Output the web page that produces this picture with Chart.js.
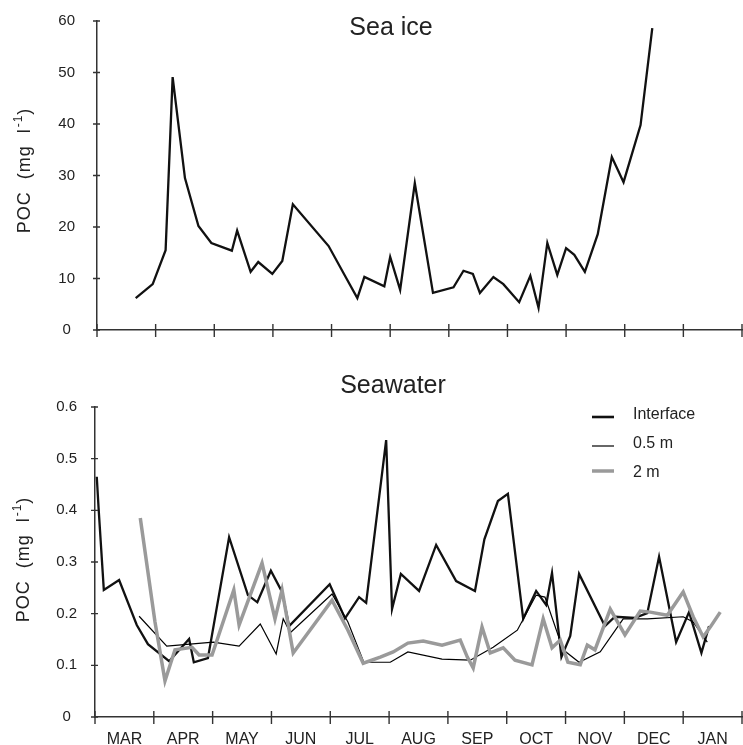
<!DOCTYPE html>
<html><head><meta charset="utf-8">
<script src="https://cdn.jsdelivr.net/npm/chart.js@4.4.0/dist/chart.umd.min.js"></script>
<style>
html,body{margin:0;padding:0;background:#fff;}
#wrap{position:relative;width:743px;height:745px;overflow:hidden;background:#fff;}
#c1{position:absolute;left:0;top:0;}
#c2{position:absolute;left:0;top:350px;}
</style></head><body>
<div id="wrap">
<canvas id="c1" width="743" height="350"></canvas>
<canvas id="c2" width="743" height="395"></canvas>
</div>
<script>
// ---- Data (x in months since start of March; 0 = start of MAR, 11 = end of JAN) ----
const months = ["MAR","APR","MAY","JUN","JUL","AUG","SEP","OCT","NOV","DEC","JAN"];
const seaIceTicks = [0,10,20,30,40,50,60];
const seawaterTicks = [0,0.1,0.2,0.3,0.4,0.5,0.6];

const seaIceX = [0.66,0.95,1.17,1.29,1.50,1.73,1.95,2.30,2.39,2.62,2.75,2.99,3.16,3.34,3.95,4.25,4.44,4.56,4.90,5.00,5.17,5.42,5.73,6.08,6.25,6.41,6.53,6.76,6.93,7.20,7.39,7.53,7.68,7.85,8.00,8.14,8.32,8.54,8.78,8.98,9.27,9.47];
const seaIceY = [6.2,8.9,15.5,49.1,29.5,20.2,16.9,15.4,19.3,11.3,13.2,10.9,13.4,24.4,16.3,10.1,6.2,10.3,8.5,14.2,7.8,28.5,7.2,8.3,11.5,10.9,7.2,10.3,8.9,5.4,10.5,4.3,16.9,10.7,15.9,14.6,11.3,18.6,33.6,28.7,39.8,58.6];

const interfaceX = [0.03,0.06,0.15,0.41,0.71,0.90,1.26,1.60,1.68,1.92,2.28,2.60,2.76,2.99,3.18,3.30,3.99,4.25,4.49,4.61,4.95,5.05,5.20,5.51,5.80,6.14,6.46,6.62,6.85,7.02,7.28,7.50,7.67,7.77,7.93,8.08,8.23,8.67,8.84,9.18,9.39,9.59,9.88,10.10,10.31,10.44];
const interfaceY = [0.465,0.406,0.246,0.265,0.178,0.141,0.108,0.151,0.106,0.114,0.348,0.236,0.222,0.283,0.242,0.176,0.257,0.191,0.232,0.221,0.536,0.209,0.277,0.244,0.333,0.263,0.244,0.344,0.418,0.432,0.190,0.244,0.217,0.279,0.116,0.157,0.277,0.176,0.194,0.192,0.201,0.310,0.145,0.203,0.124,0.176];

const m05X = [0.75,1.22,2.01,2.45,2.81,3.08,3.20,3.32,4.03,4.30,4.57,5.02,5.32,5.90,6.38,6.77,7.18,7.50,7.65,7.96,8.23,8.59,8.98,9.39,10.00,10.17,10.41];
const m05Y = [0.195,0.137,0.145,0.137,0.180,0.122,0.190,0.163,0.238,0.184,0.106,0.106,0.126,0.112,0.110,0.135,0.168,0.236,0.232,0.130,0.106,0.126,0.190,0.190,0.194,0.184,0.145];

const m2X = [0.77,1.02,1.19,1.36,1.65,1.77,1.99,2.36,2.45,2.84,3.06,3.18,3.37,4.03,4.30,4.56,4.85,5.07,5.32,5.58,5.90,6.21,6.33,6.43,6.58,6.72,6.94,7.14,7.43,7.62,7.77,7.91,8.04,8.25,8.37,8.50,8.76,9.01,9.27,9.44,9.73,10.00,10.17,10.34,10.46,10.63];
const m2Y = [0.385,0.184,0.070,0.130,0.135,0.120,0.120,0.246,0.178,0.298,0.190,0.246,0.124,0.226,0.168,0.104,0.116,0.126,0.143,0.147,0.139,0.149,0.116,0.095,0.174,0.124,0.134,0.110,0.101,0.190,0.134,0.149,0.106,0.101,0.139,0.130,0.209,0.159,0.205,0.203,0.197,0.242,0.194,0.155,0.174,0.203];

const FONT = "'Liberation Sans', Arial, Helvetica, sans-serif";
const TXT = '#222';
const AX = '#333';
const pts = (xs, ys) => xs.map((x, i) => ({x: x, y: ys[i]}));

const decor = {
  id: 'decor',
  afterDraw(chart, args, o) {
    const {ctx, scales: {x, y}} = chart;
    ctx.save();
    // tick marks crossing the axes
    ctx.strokeStyle = AX; ctx.lineWidth = 1.4;
    const yb = y.getPixelForValue(y.min);
    const xl = x.getPixelForValue(x.min);
    ctx.beginPath();
    for (let i = 0; i <= months.length; i++) {
      const px = x.getPixelForValue(i);
      ctx.moveTo(px, yb - 6); ctx.lineTo(px, yb + 7);
    }
    o.yticks.forEach(v => {
      const py = y.getPixelForValue(v);
      ctx.moveTo(xl - 4, py); ctx.lineTo(xl + 3, py);
    });
    ctx.stroke();
    // title
    ctx.fillStyle = TXT;
    ctx.font = '25px ' + FONT;
    ctx.textAlign = 'center'; ctx.textBaseline = 'middle';
    ctx.fillText(o.title, o.titleX, o.titleY);
    // y-axis label with superscript
    ctx.translate(o.ylX, o.ylY);
    ctx.rotate(-Math.PI / 2);
    ctx.letterSpacing = '1px';
    const main = 'POC  (mg  l', sup = '-1', end = ')';
    ctx.font = '18px ' + FONT;
    const w1 = ctx.measureText(main).width, w3 = ctx.measureText(end).width;
    ctx.font = '12px ' + FONT;
    const w2 = ctx.measureText(sup).width;
    let sx = -(w1 + w2 + w3) / 2;
    ctx.textAlign = 'left'; ctx.textBaseline = 'alphabetic';
    ctx.font = '18px ' + FONT;
    ctx.fillText(main, sx, 6);
    ctx.font = '12px ' + FONT;
    ctx.fillText(sup, sx + w1 + 1, -2);
    ctx.font = '18px ' + FONT;
    ctx.fillText(end, sx + w1 + w2 + 1, 6);
    ctx.restore();
    // legend
    if (o.legend) {
      ctx.save();
      ctx.font = '16px ' + FONT;
      ctx.textAlign = 'left'; ctx.textBaseline = 'middle';
      o.legend.forEach(it => {
        ctx.strokeStyle = it.color; ctx.lineWidth = it.width;
        ctx.beginPath(); ctx.moveTo(o.lgX, it.y); ctx.lineTo(o.lgX + 22, it.y); ctx.stroke();
        ctx.fillStyle = TXT;
        ctx.fillText(it.label, o.lgX + 41, it.ty);
      });
      ctx.restore();
    }
  }
};

const axisBorder = {display: true, color: AX, width: 1.5};

new Chart(document.getElementById('c1'), {
  type: 'line',
  data: {datasets: [{
    label: 'Sea ice', data: pts(seaIceX, seaIceY),
    borderColor: '#111', borderWidth: 2.3, pointRadius: 0, tension: 0, fill: false
  }]},
  options: {
    responsive: false, animation: false, devicePixelRatio: 1,
    layout: {padding: {top: 21, right: 1, left: 0, bottom: 0}},
    plugins: {legend: {display: false}, tooltip: {enabled: false},
      decor: {title: 'Sea ice', titleX: 391, titleY: 28, ylX: 24, ylY: 171, yticks: seaIceTicks}},
    scales: {
      x: {type: 'linear', min: 0, max: months.length,
        grid: {display: false, drawTicks: false}, border: axisBorder,
        afterBuildTicks(s) { s.ticks = months.map((m, i) => ({value: i + 0.5})); },
        ticks: {autoSkip: false, maxRotation: 0, padding: 13, color: 'rgba(0,0,0,0)', font: {family: FONT, size: 16},
          callback: () => ' '},
        afterFit(s) { s.height = 20; }},
      y: {min: 0, max: 60,
        grid: {display: false, drawTicks: false}, border: axisBorder,
        afterBuildTicks(s) { s.ticks = seaIceTicks.map(v => ({value: v})); },
        ticks: {padding: 22, crossAlign: 'center', color: TXT, font: {family: FONT, size: 15}},
        afterFit(s) { s.width = 97; s.paddingTop = 10; s.paddingBottom = 10; }}
    }
  },
  plugins: [decor]
});

new Chart(document.getElementById('c2'), {
  type: 'line',
  data: {datasets: [
    {label: '2 m', data: pts(m2X, m2Y), borderColor: '#9a9a9a', borderWidth: 3.5, pointRadius: 0, tension: 0, fill: false},
    {label: '0.5 m', data: pts(m05X, m05Y), borderColor: '#000', borderWidth: 1.2, pointRadius: 0, tension: 0, fill: false},
    {label: 'Interface', data: pts(interfaceX, interfaceY), borderColor: '#111', borderWidth: 2.3, pointRadius: 0, tension: 0, fill: false}
  ]},
  options: {
    responsive: false, animation: false, devicePixelRatio: 1,
    layout: {padding: {top: 57, right: 1, left: 0, bottom: 0}},
    plugins: {legend: {display: false}, tooltip: {enabled: false},
      decor: {title: 'Seawater', titleX: 393, titleY: 36, ylX: 23, ylY: 210, yticks: seawaterTicks,
        lgX: 592, legend: [
          {label: 'Interface', color: '#111', width: 2.6, y: 67, ty: 65},
          {label: '0.5 m', color: '#000', width: 1.2, y: 96, ty: 94},
          {label: '2 m', color: '#9a9a9a', width: 3.5, y: 121, ty: 123}
        ]}},
    scales: {
      x: {type: 'linear', min: 0, max: months.length,
        grid: {display: false, drawTicks: false}, border: axisBorder,
        afterBuildTicks(s) { s.ticks = months.map((m, i) => ({value: i + 0.5})); },
        ticks: {autoSkip: false, maxRotation: 0, padding: 13, color: TXT, font: {family: FONT, size: 16},
          callback: (v) => months[Math.round(v - 0.5)]},
        afterFit(s) { s.height = 28; }},
      y: {min: 0, max: 0.6,
        grid: {display: false, drawTicks: false}, border: axisBorder,
        afterBuildTicks(s) { s.ticks = seawaterTicks.map(v => ({value: v})); },
        ticks: {padding: 18, crossAlign: 'center', color: TXT, font: {family: FONT, size: 15},
          callback: (v) => String(+v.toFixed(1))},
        afterFit(s) { s.width = 95; s.paddingTop = 10; s.paddingBottom = 10; }}
    }
  },
  plugins: [decor]
});
</script>
</body></html>
